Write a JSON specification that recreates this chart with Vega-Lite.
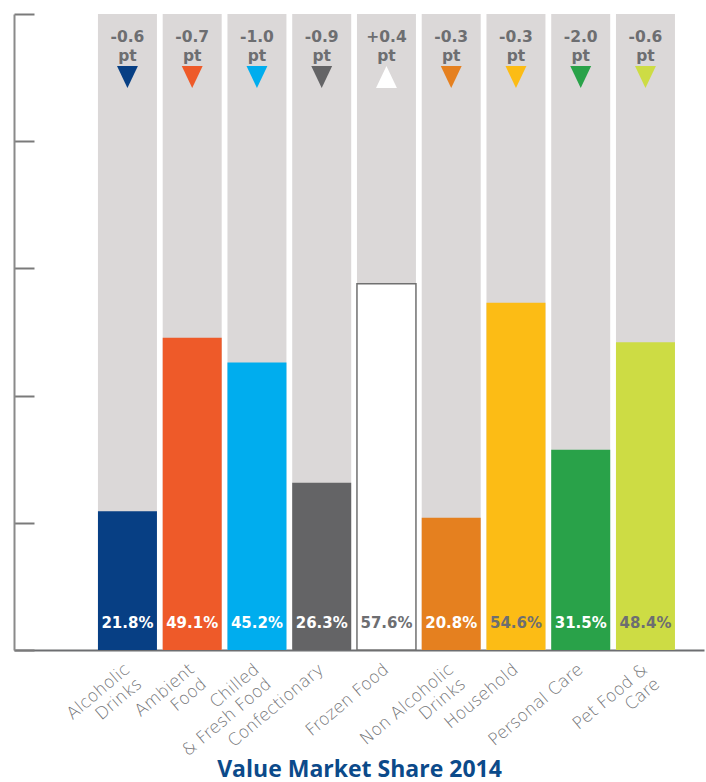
{
  "$schema": "https://vega.github.io/schema/vega-lite/v6.json",
  "width": 690,
  "height": 636,
  "autosize": "none",
  "padding": {"left": 14, "top": 14, "right": 2, "bottom": 132},
  "config": {"view": {"stroke": null}, "font": "DejaVu Sans"},
  "data": {
    "values": [
      {"cat": "Alcoholic|Drinks", "share": 0.218, "delta": "-0.6"},
      {"cat": "Ambient|Food", "share": 0.491, "delta": "-0.7"},
      {"cat": "Chilled|& Fresh Food", "share": 0.452, "delta": "-1.0"},
      {"cat": "Confectionary", "share": 0.263, "delta": "-0.9"},
      {"cat": "Frozen Food", "share": 0.576, "delta": "+0.4"},
      {"cat": "Non Alcoholic|Drinks", "share": 0.208, "delta": "-0.3"},
      {"cat": "Household", "share": 0.546, "delta": "-0.3"},
      {"cat": "Personal Care", "share": 0.315, "delta": "-2.0"},
      {"cat": "Pet Food &|Care", "share": 0.484, "delta": "-0.6"}
    ]
  },
  "encoding": {
    "x": {
      "field": "cat",
      "type": "nominal",
      "sort": null,
      "scale": {"paddingInner": 0.089, "paddingOuter": 0.8725, "align": 0.743},
      "axis": {
        "title": "Value Market Share 2014",
        "titleFont": "Open Sans",
        "titleFontSize": 23,
        "titleFontWeight": "bold",
        "titleColor": "#0b4a8a",
        "titleBaseline": "alphabetic",
        "titleY": 126,
        "labelAngle": -40,
        "labelAlign": "right",
        "labelBaseline": "middle",
        "labelFont": "DejaVu Sans",
        "labelFontSize": 17,
        "labelFontWeight": 300,
        "labelColor": "#727376",
        "labelPadding": 17,
        "labelLineHeight": 19,
        "labelExpr": "split(datum.label, '|')",
        "ticks": false,
        "domainColor": "#6d6e71",
        "domainWidth": 2
      }
    }
  },
  "layer": [
    {
      "mark": {"type": "bar", "color": "#dbd8d8"},
      "encoding": {
        "y": {
          "datum": 1,
          "type": "quantitative",
          "scale": {"domain": [0, 1]},
          "axis": {
            "values": [0, 0.2, 0.4, 0.6, 0.8, 1],
            "labels": false,
            "title": null,
            "grid": false,
            "tickSize": -20,
            "tickColor": "#7a7a7a",
            "tickWidth": 2,
            "domainColor": "#8a8a8a",
            "domainWidth": 2
          }
        },
        "y2": {"datum": 0}
      }
    },
    {
      "mark": {"type": "bar", "strokeWidth": 1.5},
      "encoding": {
        "y": {"field": "share", "type": "quantitative"},
        "color": {
          "field": "cat",
          "type": "nominal",
          "legend": null,
          "scale": {
            "domain": ["Alcoholic|Drinks", "Ambient|Food", "Chilled|& Fresh Food", "Confectionary", "Frozen Food", "Non Alcoholic|Drinks", "Household", "Personal Care", "Pet Food &|Care"],
            "range": ["#073f84", "#ee5a29", "#00adee", "#646466", "#ffffff", "#e5801f", "#fcbc15", "#29a249", "#cddc44"]
          }
        },
        "stroke": {
          "condition": {"test": "datum.cat === 'Frozen Food'", "value": "#707070"},
          "value": null
        }
      }
    },
    {
      "mark": {"type": "text", "baseline": "alphabetic", "dy": -22, "fontSize": 15, "fontWeight": "bold"},
      "encoding": {
        "y": {"datum": 0, "type": "quantitative"},
        "text": {"field": "share", "type": "quantitative", "format": ".1%"},
        "color": {
          "condition": {"test": "indexof(['Frozen Food', 'Household', 'Pet Food &|Care'], datum.cat) >= 0", "value": "#6d6e71"},
          "value": "#ffffff"
        }
      }
    },
    {
      "mark": {"type": "text", "baseline": "alphabetic", "dy": 28, "fontSize": 15.5, "fontWeight": "bold", "color": "#6d6e71"},
      "encoding": {
        "y": {"datum": 1, "type": "quantitative"},
        "text": {"field": "delta"}
      }
    },
    {
      "mark": {"type": "text", "baseline": "alphabetic", "dy": 47, "fontSize": 15.5, "fontWeight": "bold", "color": "#6d6e71", "text": "pt"},
      "encoding": {
        "y": {"datum": 1, "type": "quantitative"}
      }
    },
    {
      "mark": {"type": "point", "filled": true, "opacity": 1, "yOffset": 63, "size": 484, "strokeWidth": 0},
      "encoding": {
        "y": {"datum": 1, "type": "quantitative"},
        "shape": {
          "condition": {"test": "toNumber(datum.delta) > 0", "value": "M-0.95,1L0.95,1L0,-1Z"},
          "value": "M-0.95,-1L0.95,-1L0,1Z"
        },
        "color": {"field": "cat", "type": "nominal", "legend": null}
      }
    }
  ]
}
